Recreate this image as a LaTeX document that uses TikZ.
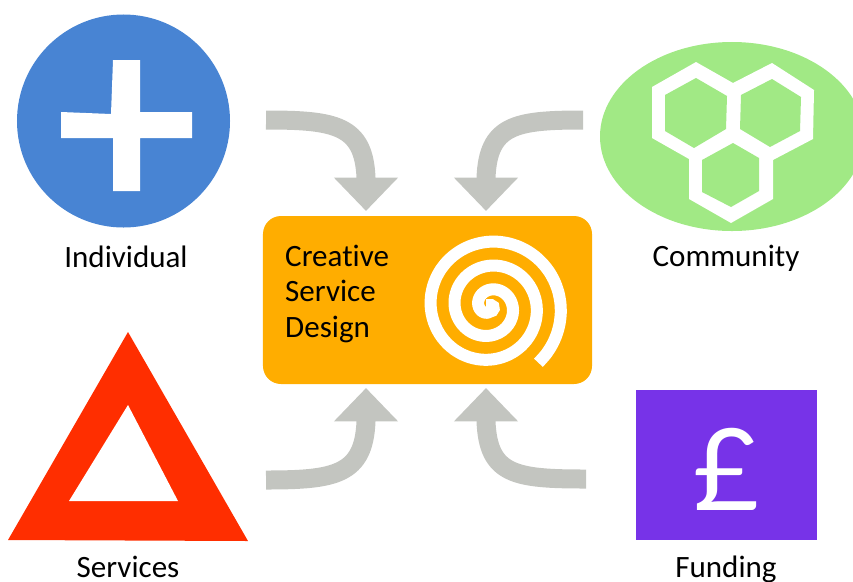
\documentclass[tikz,border=0pt]{standalone}
\usepackage{fontspec}
\setmainfont{Carlito}[Ligatures=NoCommon]
\newfontfamily\poundfont{Lato}
\usepackage{xcolor}
\usetikzlibrary{arrows.meta,shapes.geometric}
\definecolor{blueicon}{HTML}{4884D3}
\definecolor{greenicon}{HTML}{A1E985}
\definecolor{redicon}{HTML}{FF2E00}
\definecolor{purpleicon}{HTML}{7733E8}
\definecolor{orangebox}{HTML}{FFAD00}
\definecolor{greyarrow}{HTML}{C3C5C0}

\begin{document}
\begin{tikzpicture}[x=0.03cm,y=-0.03cm,inner sep=0pt,
  label text/.style={font=\fontsize{26.5}{26.5}\selectfont,anchor=base,text=black},
  flow arrow/.style={draw=greyarrow,line width=0.57cm,-{Triangle[width=1.86cm,length=1cm,color=greyarrow]}},
  white mark/.style={fill=white,draw=none},
  hex hole/.style={fill=greenicon,draw=none}]
\useasboundingbox (0,0) rectangle (853,581);
\coordinate (from individual) at (266,120);
\coordinate (from community) at (583,120);
\coordinate (from services) at (266,480);
\coordinate (from funding) at (586,479);
\coordinate (tip nw) at (366,211);
\coordinate (tip ne) at (486,211);
\coordinate (tip sw) at (366,388);
\coordinate (tip se) at (486,388);

% Draw the four icons
\node[circle,fill=blueicon,minimum size=6.39cm] (individual) at (123.5,121) {};
\fill[white mark] (113,60) -- (140,60) -- (140,112) -- (192,112) -- (192,138) -- (140,138) -- (140,191) -- (113,191) -- (113,138) -- (61,138) -- (61,112) -- (111,114) -- cycle;
\node[ellipse,fill=greenicon,minimum width=7.92cm,minimum height=5.67cm] (community) at (732,136.5) {};
\fill[white mark] (696,62) -- (733,83) -- (772,63) -- (814,90) -- (813,139) -- (773,160) -- (773,199) -- (731,223) -- (689,199) -- (689,159) -- (652,138) -- (652,87) -- cycle;
\fill[hex hole] (696,78) -- (727,96) -- (726,129) -- (694,148) -- (665,131) -- (665,95) -- cycle;
\fill[hex hole] (772,79) -- (801,97) -- (800,131) -- (770,147) -- (740,129) -- (741,95) -- cycle;
\fill[hex hole] (733,143) -- (759,158) -- (759,191) -- (731,207) -- (702,192) -- (702,160) -- cycle;
\fill[redicon] (128,332) -- (248,541) -- (8,540) -- cycle;
\fill[white mark] (128,405) -- (178,501) -- (69,501) -- cycle;
\node[rectangle,fill=purpleicon,minimum width=5.43cm,minimum height=4.5cm] (funding) at (726.5,465) {};
\node[anchor=base,text=white,font=\poundfont\fontsize{97}{97}\selectfont] (pound) at (726,510) {£};

% Draw the centre box
\node[rectangle,rounded corners=0.54cm,fill=orangebox,minimum width=9.87cm,minimum height=5.04cm] (design) at (427.5,300) {};
\node[anchor=base west,align=left,font=\fontsize{26.5}{30}\selectfont] (design text) at (285,337) {Creative\\Service\\Design};
\draw[white,line width=0.36cm] plot[smooth,domain=49:-990,samples=120,variable=\t] ({489.7+(71+\t/15)*cos(\t)},{306.7+(71+\t/15)*sin(\t)}) .. controls (494,311.7) and (495.5,306) .. (491,305) -- (486,305);

% Draw the arrows
\draw[flow arrow] (from individual) .. controls (335,120) and (364,125) .. (366,178) -- (tip nw);
\draw[flow arrow] (from community) .. controls (515,120) and (488,125) .. (486,178) -- (tip ne);
\draw[flow arrow] (from services) .. controls (335,480) and (364,475) .. (366,421) -- (tip sw);
\draw[flow arrow] (from funding) .. controls (515,479) and (488,475) .. (486,421) -- (tip se);

\node[label text] (individual label) at (126,267) {Individual};
\node[label text] (community label) at (726,266) {Community};
\node[label text] (services label) at (128,577) {Services};
\node[label text] (funding label) at (726,577) {Funding};
\end{tikzpicture}
\end{document}
